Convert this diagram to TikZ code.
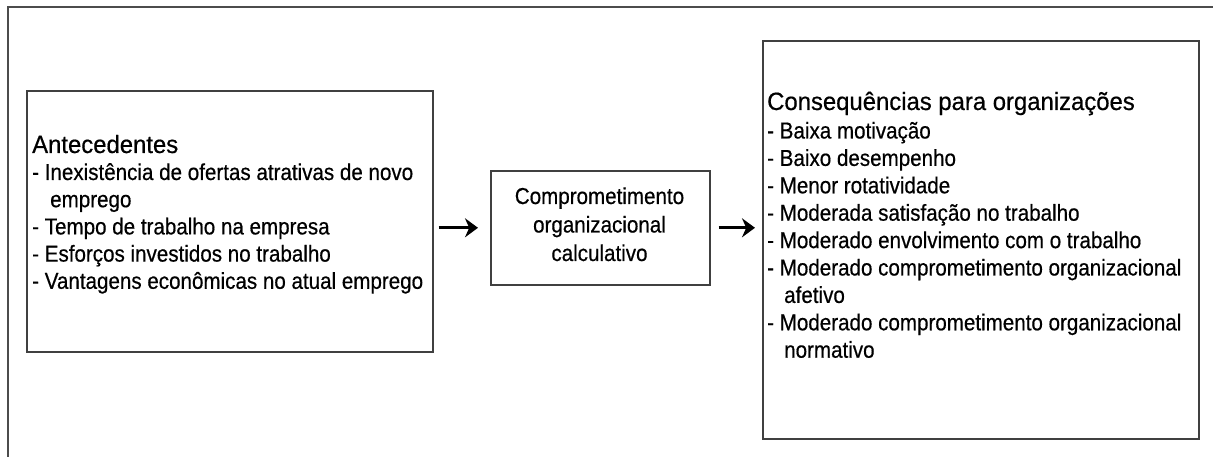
\documentclass[tikz,border=0pt]{standalone}
\usepackage{fontspec}
\setmainfont{Liberation Sans}
\newfontfamily\itmfont[FakeStretch=0.895,FakeBold=0.5]{Liberation Sans}
\newfontfamily\ttlfont[FakeStretch=0.955,FakeBold=0.5]{Liberation Sans}
\usetikzlibrary{arrows.meta}
\begin{document}
\begin{tikzpicture}[x=1pt,y=-1pt,
  frame/.style={draw=black!70, line width=1.4pt},
  box/.style={draw=black!75, line width=1.6pt, rectangle, inner sep=0pt, anchor=north west},
  itm/.style={font=\itmfont\fontsize{23}{27}\selectfont, inner sep=0pt, anchor=base west},
  ttl/.style={font=\ttlfont\fontsize{25}{28}\selectfont, inner sep=0pt, anchor=base west},
  midtxt/.style={font=\itmfont\fontsize{23}{28}\selectfont, inner sep=0pt, anchor=base},
  arr/.style={line width=3pt, -{Stealth[length=13pt,width=19pt]}}]
\useasboundingbox (0,0) rectangle (1213,457);
\coordinate (f1) at (8,457);
\coordinate (f2) at (8,7);
\coordinate (f3) at (1213,7);
\draw[frame] (f1) -- (f2) -- (f3);
% boxes
\node[box, minimum width=406pt, minimum height=261pt] (ante) at (26,90) {};
\node[box, minimum width=219pt, minimum height=114pt] (mid) at (490,170) {};
\node[box, minimum width=436pt, minimum height=398pt] (cons) at (762,40) {};
% left text
\node[ttl] (t1) at (32,153) {Antecedentes};
\node[itm] (a1) at (32,180) {- Inexistência de ofertas atrativas de novo};
\node[itm] (a2) at (50,207.2) {emprego};
\node[itm] (a3) at (32,234.4) {- Tempo de trabalho na empresa};
\node[itm] (a4) at (32,261.6) {- Esforços investidos no trabalho};
\node[itm] (a5) at (32,288.8) {- Vantagens econômicas no atual emprego};
% middle text
\node[midtxt] (m1) at (599.5,204) {Comprometimento};
\node[midtxt] (m2) at (599.5,232.5) {organizacional};
\node[midtxt] (m3) at (599.5,261) {calculativo};
% right text
\node[ttl] (t2) at (767,110) {Consequências para organizações};
\node[itm] (c1) at (767,138.5) {- Baixa motivação};
\node[itm] (c2) at (767,165.9) {- Baixo desempenho};
\node[itm] (c3) at (767,193.3) {- Menor rotatividade};
\node[itm] (c4) at (767,220.7) {- Moderada satisfação no trabalho};
\node[itm] (c5) at (767,248.1) {- Moderado envolvimento com o trabalho};
\node[itm] (c6) at (767,275.5) {- Moderado comprometimento organizacional};
\node[itm] (c7) at (784,302.9) {afetivo};
\node[itm] (c8) at (767,330.3) {- Moderado comprometimento organizacional};
\node[itm] (c9) at (784,357.7) {normativo};
% arrows
\coordinate (p1) at (ante.east |- mid.west);
\coordinate (p2) at (mid.east -| cons.west);
\draw[arr, shorten <=5pt, shorten >=12pt] (p1) -- (mid.west);
\draw[arr, shorten <=8pt, shorten >=7pt] (mid.east) -- (p2);
\end{tikzpicture}
\end{document}
